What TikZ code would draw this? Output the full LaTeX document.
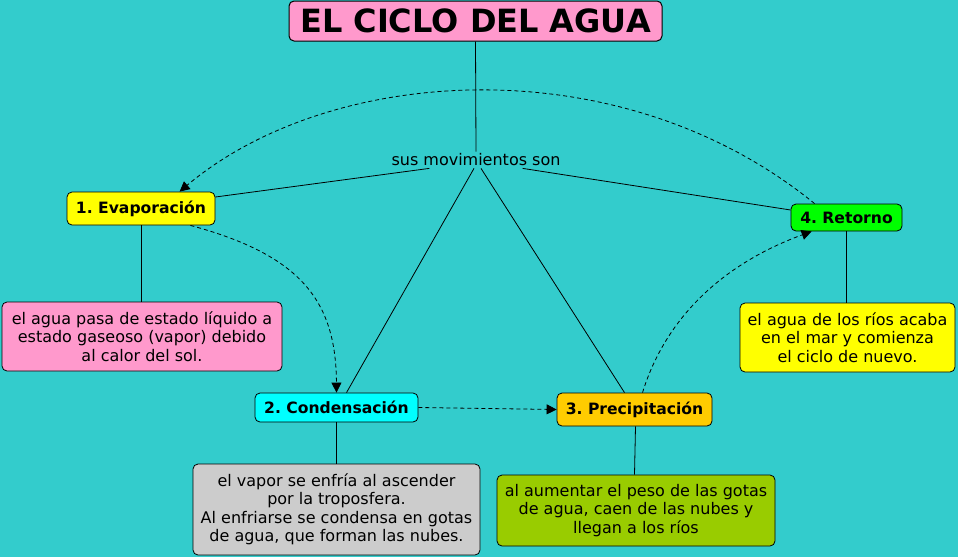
\documentclass[tikz,border=0pt]{standalone}
\usepackage{fontspec}
\setmainfont{DejaVu Sans}
\frenchspacing
\usetikzlibrary{arrows.meta}
\definecolor{bg}{HTML}{33CCCC}
\definecolor{pinkc}{HTML}{FF99CC}
\definecolor{yellowc}{HTML}{FFFF00}
\definecolor{cyanc}{HTML}{00FFFF}
\definecolor{orangec}{HTML}{FFCC00}
\definecolor{greenc}{HTML}{00FF00}
\definecolor{grayc}{HTML}{CCCCCC}
\definecolor{olivec}{HTML}{99CC00}
\begin{document}
\begin{tikzpicture}[x=1pt,y=-1pt,
  concept/.style={draw=black, line width=0.8pt, rounded corners=5pt, inner sep=0pt, align=center, font=\fontsize{15.6}{17}\selectfont\bfseries\frenchspacing},
  info/.style={draw=black, line width=0.8pt, rounded corners=5pt, inner sep=0pt, align=center, font=\fontsize{16}{18.5}\selectfont},
  link/.style={draw=black, line width=0.8pt},
  flow/.style={draw=black, line width=0.8pt, dash pattern=on 4pt off 3pt, -{Triangle[length=10pt,width=10pt]}}]
\fill[bg] (0,0) rectangle (958,557);
\useasboundingbox (0,0) rectangle (958,557);

\node[concept, fill=pinkc, line width=1pt, minimum width=373, minimum height=40, font=\fontsize{32}{34}\selectfont\bfseries] (title) at (475.5,21) {EL CICLO DEL AGUA};
\node[inner sep=2pt, font=\fontsize{16}{18}\selectfont] (lbl) at (476,160) {sus movimientos son};

\node[concept, fill=yellowc, minimum width=148, minimum height=33] (evap) at (141,208.5) {1. Evaporación};
\node[concept, fill=cyanc, minimum width=163, minimum height=29] (cond) at (336.5,407.5) {2. Condensación};
\node[concept, fill=orangec, minimum width=155, minimum height=33] (prec) at (634.5,409.5) {3. Precipitación};
\node[concept, fill=greenc, minimum width=111, minimum height=27] (ret) at (846.5,217.5) {4. Retorno};

\node[info, fill=pinkc, minimum width=280, minimum height=69] (evapt) at (142,336.5) {el agua pasa de estado líquido a\\estado gaseoso (vapor) debido\\al calor del sol.};
\node[info, fill=grayc, minimum width=287, minimum height=91] (condt) at (336.5,509.5) {el vapor se enfría al ascender\\por la troposfera.\\Al enfriarse se condensa en gotas\\de agua, que forman las nubes.};
\node[info, fill=olivec, minimum width=278, minimum height=71] (prect) at (636,510.5) {al aumentar el peso de las gotas\\de agua, caen de las nubes y\\llegan a los ríos};
\node[info, fill=yellowc, minimum width=215, minimum height=69] (rett) at (847.5,337.5) {el agua de los ríos acaba\\en el mar y comienza\\el ciclo de nuevo.};

% links
\draw[link] (title.south) -- (lbl.north);
\draw[link] (lbl.south west) ++(40,0) coordinate (l1) -- (evap.east |- 0,197);
\draw[link] (lbl.south east) ++(-40,0) coordinate (l2) -- (ret.west |- 0,210);
\draw[link] (lbl.south) ++(-2,0) coordinate (l3) -- ([xshift=10pt]cond.north);
\draw[link] (lbl.south) ++(5,0) coordinate (l4) -- ([xshift=-10pt]prec.north);
\draw[link] (evap.south) -- (evapt.north -| evap.south);
\draw[link] (cond.south) -- (condt.north -| cond.south);
\draw[link] ([xshift=1pt]prec.south) -- (prect.north -| prec.south);
\draw[link] (ret.south) -- (rett.north -| ret.south);

% flows
\draw[flow] ([xshift=24pt]ret.north west) .. controls (620,45) and (330,65) .. ([xshift=113pt]evap.north west);
\draw[flow] ([xshift=-25pt]evap.south east) .. controls (300,255) and (336,300) .. (cond.north);
\draw[flow] (cond.east) -- (prec.west);
\draw[flow] ([xshift=8pt]prec.north) .. controls (665,320) and (720,265) .. ([xshift=21pt]ret.south west);
\end{tikzpicture}
\end{document}
